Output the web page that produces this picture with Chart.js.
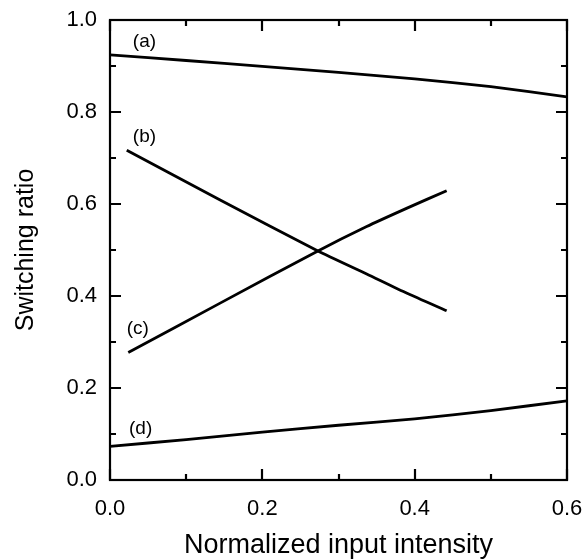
<!DOCTYPE html>
<html>
<head>
<meta charset="utf-8">
<script src="https://cdn.jsdelivr.net/npm/chart.js@4/dist/chart.umd.min.js"></script>
<style>
html,body{margin:0;padding:0;background:#fff;}
#wrap{width:583px;height:559px;position:relative;}
</style>
</head>
<body>
<div id="wrap"><canvas id="c" width="583" height="559"></canvas></div>
<script>
// ---- data ----
const xA = [0, 0.1, 0.2, 0.3, 0.4, 0.5, 0.6];
const yA = [0.924, 0.912, 0.899, 0.886, 0.872, 0.855, 0.833];
const xB = [0.022, 0.144, 0.273, 0.337, 0.390, 0.442];
const yB = [0.717, 0.609, 0.498, 0.448, 0.406, 0.368];
const xC = [0.024, 0.144, 0.273, 0.337, 0.390, 0.442];
const yC = [0.277, 0.384, 0.498, 0.551, 0.591, 0.629];
const xD = [0, 0.1, 0.2, 0.3, 0.4, 0.5, 0.6];
const yD = [0.073, 0.088, 0.104, 0.119, 0.133, 0.151, 0.172];
const seriesNames = ['(a)', '(b)', '(c)', '(d)'];
const xMajorTicks = [0.0, 0.2, 0.4, 0.6];
const xMinorTicks = [0.1, 0.3, 0.5];
const yMajorTicks = [0.0, 0.2, 0.4, 0.6, 0.8, 1.0];
const yMinorTicks = [0.1, 0.3, 0.5, 0.7, 0.9];
const xTitle = 'Normalized input intensity';
const yTitle = 'Switching ratio';
// label anchor points (data coordinates, left-middle of text)
const labelX = [0.030, 0.030, 0.022, 0.025];
const labelY = [0.952, 0.746, 0.328, 0.111];

const toPts = (xs, ys) => xs.map((x, i) => ({x: x, y: ys[i]}));
const FONT = "'Liberation Sans', Arial, Helvetica, sans-serif";

const ticksPlugin = {
  id: 'framedTicks',
  afterDatasetsDraw(chart) {
    const ctx = chart.ctx, a = chart.chartArea;
    const xs = chart.scales.x, ys = chart.scales.y;
    ctx.save();
    ctx.strokeStyle = '#000';
    ctx.lineWidth = 2.2;
    ctx.lineCap = 'butt';
    ctx.strokeRect(a.left, a.top, a.right - a.left, a.bottom - a.top);
    ctx.beginPath();
    const tk = (list, len, axis) => {
      list.forEach(v => {
        if (axis === 'x') {
          const p = Math.round(xs.getPixelForValue(v));
          ctx.moveTo(p, a.bottom); ctx.lineTo(p, a.bottom - len);
          ctx.moveTo(p, a.top); ctx.lineTo(p, a.top + len);
        } else {
          const p = Math.round(ys.getPixelForValue(v));
          ctx.moveTo(a.left, p); ctx.lineTo(a.left + len, p);
          ctx.moveTo(a.right, p); ctx.lineTo(a.right - len, p);
        }
      });
    };
    tk(xMajorTicks, 11, 'x');
    tk(xMinorTicks, 6, 'x');
    tk(yMajorTicks, 11, 'y');
    tk(yMinorTicks, 6, 'y');
    ctx.stroke();
    // curve labels
    ctx.fillStyle = '#000';
    ctx.font = '19px ' + FONT;
    ctx.textBaseline = 'middle';
    ctx.textAlign = 'left';
    seriesNames.forEach((n, i) => {
      ctx.fillText(n, xs.getPixelForValue(labelX[i]), ys.getPixelForValue(labelY[i]));
    });
    ctx.restore();
  }
};

const mk = (xs, ys, name) => ({
  label: name,
  data: toPts(xs, ys),
  borderColor: '#000',
  borderWidth: 2.8,
  pointRadius: 0,
  fill: false,
  tension: 0.2
});

const noPad = s => { s.paddingLeft = 0; s.paddingRight = 0; s.paddingTop = 0; s.paddingBottom = 0; };

new Chart(document.getElementById('c'), {
  type: 'line',
  data: {
    datasets: [
      mk(xA, yA, seriesNames[0]),
      mk(xB, yB, seriesNames[1]),
      mk(xC, yC, seriesNames[2]),
      mk(xD, yD, seriesNames[3])
    ]
  },
  options: {
    responsive: false,
    animation: false,
    events: [],
    layout: {padding: {left: 0, right: 16, top: 20, bottom: 0}},
    plugins: {legend: {display: false}, tooltip: {enabled: false}},
    scales: {
      x: {
        type: 'linear',
        min: 0, max: 0.6,
        afterFit: s => { s.height = 79; noPad(s); },
        afterBuildTicks: s => { s.ticks = xMajorTicks.map(v => ({value: v})); },
        grid: {display: false, drawTicks: false},
        border: {display: false},
        ticks: {
          color: '#000',
          padding: 16,
          font: {family: FONT, size: 22},
          maxRotation: 0,
          callback: v => Number(v).toFixed(1)
        },
        title: {
          display: true, text: xTitle, color: '#000',
          font: {family: FONT, size: 27, lineHeight: 1},
          padding: {top: 0, bottom: 0}
        }
      },
      y: {
        type: 'linear',
        min: 0, max: 1,
        afterFit: s => { s.width = 110; noPad(s); },
        afterBuildTicks: s => { s.ticks = yMajorTicks.map(v => ({value: v})); },
        grid: {display: false, drawTicks: false},
        border: {display: false},
        ticks: {
          color: '#000',
          padding: 13,
          font: {family: FONT, size: 22},
          callback: v => Number(v).toFixed(1)
        },
        title: {
          display: true, text: yTitle, color: '#000',
          font: {family: FONT, size: 25, lineHeight: 1},
          padding: {top: 14, bottom: 0}
        }
      }
    }
  },
  plugins: [ticksPlugin]
});
</script>
</body>
</html>
